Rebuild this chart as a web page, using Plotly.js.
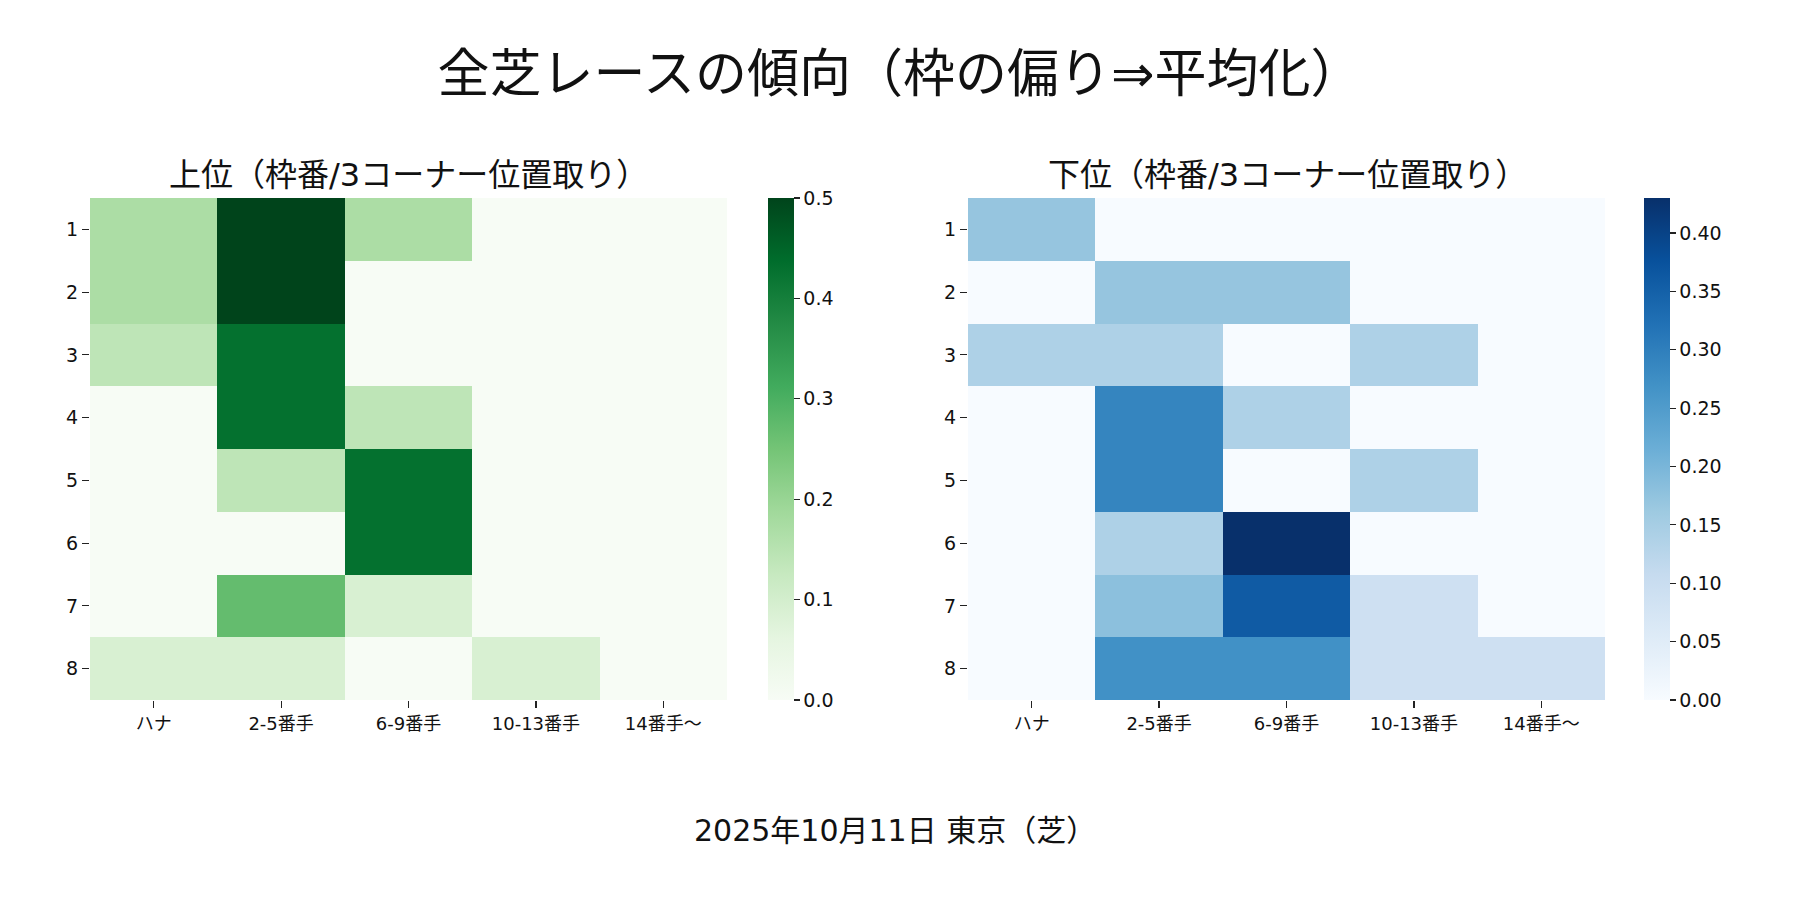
<!DOCTYPE html>
<html>
<head>
<meta charset="utf-8">
<script src="https://cdn.plot.ly/plotly-3.0.1.min.js"></script>
<style>
  body { margin: 0; background: #fff; }
  #plotDiv { width: 1800px; height: 900px; }
</style>
</head>
<body>
<div id="plotDiv"></div>
<script>
// categories
const positions = ['ハナ', '2-5番手', '6-9番手', '10-13番手', '14番手〜'];
const gates = ['1', '2', '3', '4', '5', '6', '7', '8'];

// 上位 (rows = 枠番 1..8)
const topShares = [
    [0.17, 0.50, 0.17, 0.00, 0.00],
    [0.17, 0.50, 0.00, 0.00, 0.00],
    [0.14, 0.43, 0.00, 0.00, 0.00],
    [0.00, 0.43, 0.14, 0.00, 0.00],
    [0.00, 0.14, 0.43, 0.00, 0.00],
    [0.00, 0.00, 0.43, 0.00, 0.00],
    [0.00, 0.27, 0.09, 0.00, 0.00],
    [0.09, 0.09, 0.00, 0.09, 0.00]
];

// 下位
const bottomShares = [
    [0.17, 0.00, 0.00, 0.00, 0.00],
    [0.00, 0.17, 0.17, 0.00, 0.00],
    [0.14, 0.14, 0.00, 0.14, 0.00],
    [0.00, 0.29, 0.14, 0.00, 0.00],
    [0.00, 0.29, 0.00, 0.14, 0.00],
    [0.00, 0.14, 0.43, 0.00, 0.00],
    [0.00, 0.18, 0.36, 0.09, 0.00],
    [0.00, 0.27, 0.27, 0.09, 0.09]
];

const mainTitle = '全芝レースの傾向（枠の偏り⇒平均化）';
const leftTitle = '上位（枠番/3コーナー位置取り）';
const rightTitle = '下位（枠番/3コーナー位置取り）';
const footer = '2025年10月11日 東京（芝）';

// matplotlib-like colour maps
const greens = ['#f7fcf5', '#e5f5e0', '#c7e9c0', '#a1d99b', '#74c476', '#41ab5d', '#238b45', '#006d2c', '#00441b'];
const blues = ['#f7fbff', '#deebf7', '#c6dbef', '#9ecae1', '#6baed6', '#4292c6', '#2171b5', '#08519c', '#08306b'];
const toScale = (cols) => cols.map((c, i) => [i / (cols.length - 1), c]);

const FONT = '"DejaVu Sans", "Noto Sans CJK JP", sans-serif';
const W = 1800, H = 900;
const px = (x) => x / W;
const py = (y) => 1 - y / H;

const maxOf = (m) => Math.max(...m.map(r => Math.max(...r)));

function colorbar(left, fmt, step) {
    return {
        x: px(left), xanchor: 'left', xpad: 0,
        y: py(198), yanchor: 'top', ypad: 0,
        len: (700 - 198) / H, lenmode: 'fraction',
        thickness: 26, thicknessmode: 'pixels',
        outlinewidth: 0,
        ticks: 'outside', ticklen: 6, tickwidth: 1.2, tickcolor: '#222',
        tick0: 0, dtick: step, tickformat: fmt,
        tickfont: {family: FONT, size: 19, color: '#111'}
    };
}

let data = [
    {
        type: 'heatmap', x: positions, y: gates, z: topShares,
        colorscale: toScale(greens), zmin: 0, zmax: maxOf(topShares),
        xaxis: 'x', yaxis: 'y',
        colorbar: colorbar(768, '.1f', 0.1)
    },
    {
        type: 'heatmap', x: positions, y: gates, z: bottomShares,
        colorscale: toScale(blues), zmin: 0, zmax: maxOf(bottomShares),
        xaxis: 'x2', yaxis: 'y2',
        colorbar: colorbar(1644, '.2f', 0.05)
    }
];

function xAxis(d, anchor) {
    return {
        domain: d, anchor: anchor, showgrid: false, zeroline: false, showline: false,
        ticks: 'outside', ticklen: 7, tickwidth: 1.2, tickcolor: '#222',
        tickfont: {family: FONT, size: 18, color: '#111'}
    };
}
function yAxis(anchor) {
    return {
        domain: [py(700), py(198)], anchor: anchor, autorange: 'reversed',
        showgrid: false, zeroline: false, showline: false,
        ticks: 'outside', ticklen: 7, tickwidth: 1.2, tickcolor: '#222',
        tickfont: {family: FONT, size: 19, color: '#111'}
    };
}

let layout = {
    width: W, height: H,
    margin: {l: 0, r: 0, t: 0, b: 0},
    paper_bgcolor: '#fff', plot_bgcolor: '#fff',
    font: {family: FONT, color: '#111'},
    title: {
        text: mainTitle, x: 0.5, xanchor: 'center',
        y: py(74), yref: 'container', yanchor: 'middle',
        font: {family: FONT, size: 52, color: '#111'}
    },
    xaxis: xAxis([px(90), px(727)], 'y'),
    yaxis: yAxis('x'),
    xaxis2: xAxis([px(968), px(1605)], 'y2'),
    yaxis2: yAxis('x2'),
    annotations: [
        {text: leftTitle, xref: 'paper', yref: 'paper', x: px(408), y: py(175),
         xanchor: 'center', yanchor: 'middle', showarrow: false,
         font: {family: FONT, size: 32, color: '#111'}},
        {text: rightTitle, xref: 'paper', yref: 'paper', x: px(1287), y: py(175),
         xanchor: 'center', yanchor: 'middle', showarrow: false,
         font: {family: FONT, size: 32, color: '#111'}},
        {text: footer, xref: 'paper', yref: 'paper', x: px(895), y: py(830),
         xanchor: 'center', yanchor: 'middle', showarrow: false,
         font: {family: FONT, size: 30, color: '#111'}}
    ]
};

Plotly.newPlot('plotDiv', data, layout, {staticPlot: true});
</script>
</body>
</html>
